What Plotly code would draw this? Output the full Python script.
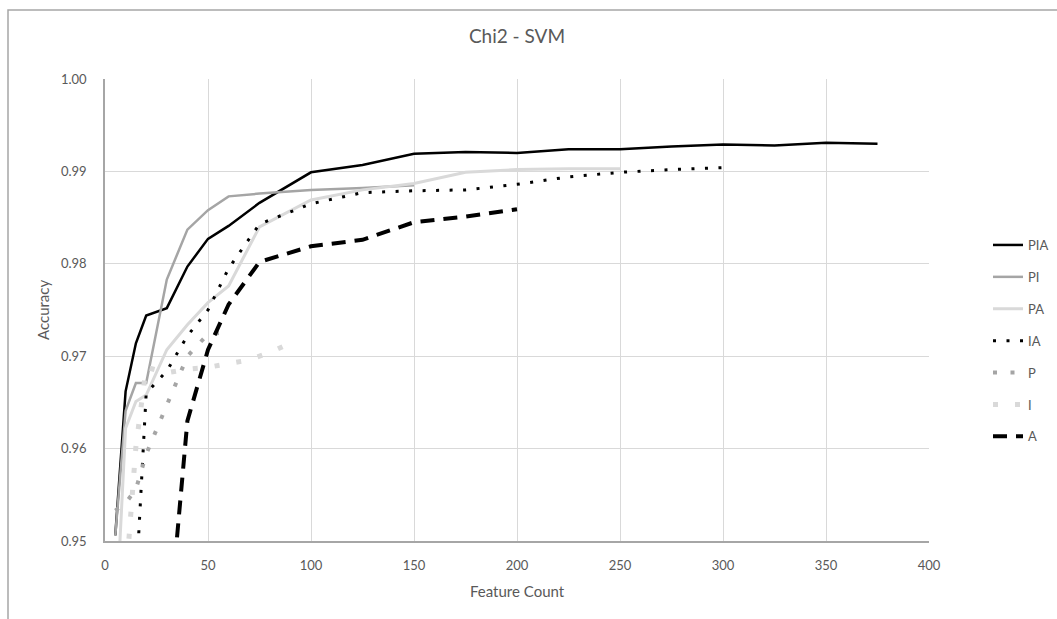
import plotly.graph_objects as go

# Feature counts and SVM accuracies (chi2 feature selection) per feature-set combination
pia_x = [5, 10, 15, 20, 30, 40, 50, 60, 75, 100, 125, 150, 175, 200, 225, 250, 275, 300, 325, 350, 375]
pia_y = [0.9506, 0.9662, 0.9714, 0.9744, 0.9752, 0.9797, 0.9827, 0.9841, 0.9866, 0.9899, 0.9907,
         0.9919, 0.9921, 0.9920, 0.9924, 0.9924, 0.9927, 0.9929, 0.9928, 0.9931, 0.9930]

pi_x = [5, 10, 15, 20, 30, 40, 50, 60, 75, 100, 125, 150]
pi_y = [0.9506, 0.9641, 0.9671, 0.9671, 0.9783, 0.9837, 0.9858, 0.9873, 0.9876, 0.9880, 0.9882, 0.9885]

pa_x = [5, 10, 15, 20, 30, 40, 50, 60, 75, 100, 125, 150, 175, 200, 225, 250]
pa_y = [0.9400, 0.9622, 0.9651, 0.9658, 0.9707, 0.9734, 0.9758, 0.9776, 0.9840, 0.9869, 0.9880,
        0.9887, 0.9899, 0.9902, 0.9903, 0.9903]

ia_x = [15, 20, 30, 40, 50, 60, 75, 100, 125, 150, 175, 200, 225, 250, 275, 300]
ia_y = [0.9450, 0.9660, 0.9684, 0.9722, 0.9750, 0.9795, 0.9843, 0.9865, 0.9877, 0.9879, 0.9880,
        0.9886, 0.9894, 0.9899, 0.9902, 0.9904]

p_x = [5, 10, 15, 20, 30, 40, 50, 60]
p_y = [0.9533, 0.9541, 0.9556, 0.9594, 0.9647, 0.9700, 0.9724, 0.9726]

i_x = [10, 15, 20, 30, 40, 50, 60, 70, 80, 90]
i_y = [0.9455, 0.9602, 0.9688, 0.9682, 0.9686, 0.9688, 0.9692, 0.9696, 0.9704, 0.9714]

a_x = [30, 40, 50, 60, 75, 100, 125, 150, 175, 200]
a_y = [0.9380, 0.9630, 0.9707, 0.9756, 0.9802, 0.9819, 0.9826, 0.9845, 0.9851, 0.9859]

x_ticks = [0, 50, 100, 150, 200, 250, 300, 350, 400]
y_ticks = [0.95, 0.96, 0.97, 0.98, 0.99, 1.00]

FONT = "Lato"
TEXT = "#595959"

series = [
    ("PIA", pia_x, pia_y, dict(color="#000000", width=2.5)),
    ("PI", pi_x, pi_y, dict(color="#a5a5a5", width=2.5)),
    ("PA", pa_x, pa_y, dict(color="#d9d9d9", width=3)),
    ("IA", ia_x, ia_y, dict(color="#000000", width=3, dash="3px,10.5px")),
    ("P", p_x, p_y, dict(color="#a5a5a5", width=4, dash="4px,13.5px")),
    ("I", i_x, i_y, dict(color="#d9d9d9", width=5, dash="5px,17px")),
    ("A", a_x, a_y, dict(color="#000000", width=4, dash="14px,9px")),
]

fig = go.Figure()
for name, xs, ys, line in series:
    fig.add_trace(go.Scatter(x=xs, y=ys, mode="lines", name=name, line=line,
                             legendgroup=name))

# plot area: x 105..929 px, y 79..541 px
L, R, T, B = 105, 929, 79, 541
W, H = 1057, 619
pw, ph = R - L, B - T


def px(x):
    return (x - L) / pw


def py(y):
    return (B - y) / ph


fig.update_layout(
    width=W, height=H,
    margin=dict(l=L, r=W - R, t=T, b=H - B, autoexpand=False),
    paper_bgcolor="white", plot_bgcolor="white",
    font=dict(family=FONT, color=TEXT, size=13),
    title=dict(text="Chi2 - SVM", x=0.5, xref="paper", xanchor="center",
               y=1 - 36 / H, yref="container", yanchor="middle",
               font=dict(family=FONT, size=19, color=TEXT)),
    xaxis=dict(range=[0, 400], tickvals=x_ticks, showgrid=True, gridcolor="#d9d9d9",
               gridwidth=1, showline=True, linecolor="#a6a6a6", linewidth=1.5,
               zeroline=False, ticks="", ticklabelstandoff=12,
               tickfont=dict(size=13, color=TEXT, family=FONT)),
    yaxis=dict(range=[0.95, 1.0], tickvals=y_ticks, tickformat=".2f", showgrid=True,
               gridcolor="#d9d9d9", gridwidth=1, showline=True, linecolor="#a6a6a6",
               linewidth=1.5, zeroline=False, ticks="", ticklabelstandoff=14,
               tickfont=dict(size=13, color=TEXT, family=FONT)),
    legend=dict(x=px(988), xanchor="left", y=py(341), yanchor="middle",
                font=dict(size=13, color=TEXT, family=FONT), tracegroupgap=12,
                bgcolor="rgba(0,0,0,0)"),
    annotations=[
        dict(text="Feature Count", x=0.5, y=py(591), xref="paper", yref="paper",
             showarrow=False, xanchor="center", yanchor="middle",
             font=dict(size=15, color=TEXT, family=FONT)),
        dict(text="Accuracy", x=px(43), y=0.5, xref="paper", yref="paper",
             showarrow=False, textangle=-90, xanchor="center", yanchor="middle",
             font=dict(size=15, color=TEXT, family=FONT)),
    ],
    shapes=[
        dict(type="rect", xref="paper", yref="paper", x0=px(8), x1=px(1070),
             y0=py(640), y1=py(10), line=dict(color="#a6a6a6", width=1.5),
             fillcolor="rgba(0,0,0,0)", layer="below"),
    ],
)

fig.write_html("out.html")
